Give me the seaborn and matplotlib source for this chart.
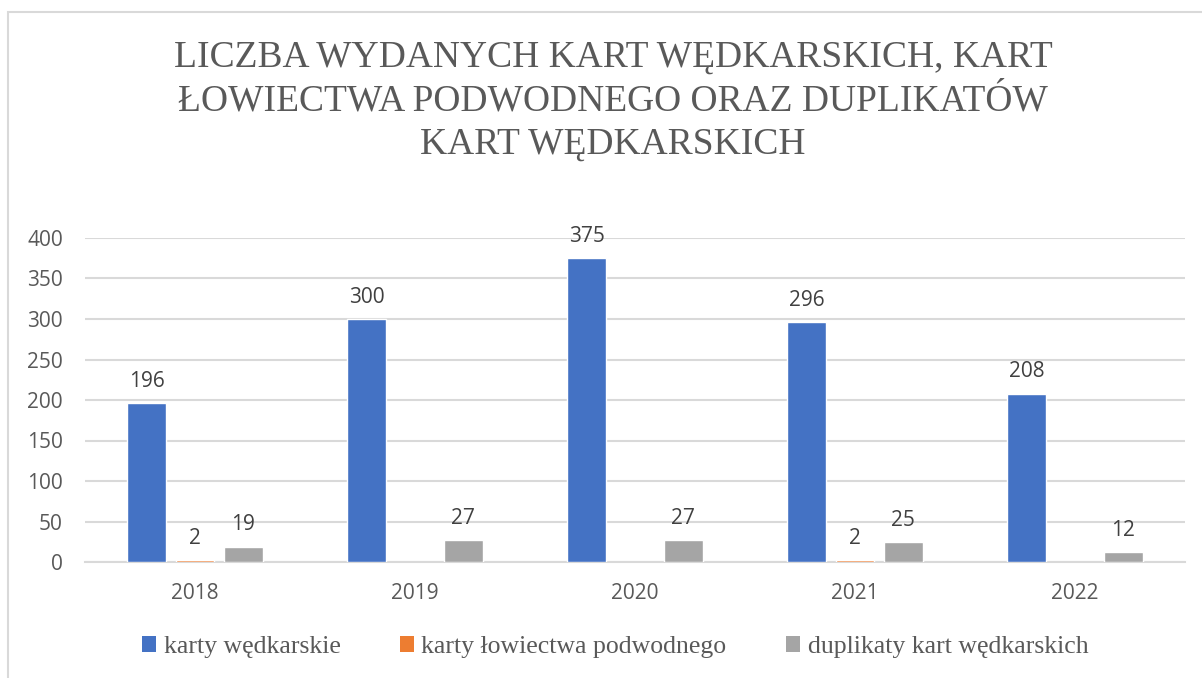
import numpy as np
import pandas as pd
import matplotlib
matplotlib.use("Agg")
import matplotlib.pyplot as plt
from matplotlib.patches import Patch, Rectangle
import seaborn as sns

years = ["2018", "2019", "2020", "2021", "2022"]
karty_wedkarskie = [196, 300, 375, 296, 208]
karty_lowiectwa = [2, np.nan, np.nan, 2, np.nan]
duplikaty = [19, 27, 27, 25, 12]
series_names = ["karty wędkarskie", "karty łowiectwa podwodnego", "duplikaty kart wędkarskich"]
y_ticks = [0, 50, 100, 150, 200, 250, 300, 350, 400]
title = "LICZBA WYDANYCH KART WĘDKARSKICH, KART\nŁOWIECTWA PODWODNEGO ORAZ DUPLIKATÓW\nKART WĘDKARSKICH"

colors = ["#4472C4", "#ED7D31", "#A5A5A5"]

df = pd.DataFrame({
    "rok": years * 3,
    "seria": [series_names[0]] * 5 + [series_names[1]] * 5 + [series_names[2]] * 5,
    "liczba": karty_wedkarskie + karty_lowiectwa + duplikaty,
})

sns.set_theme(style="white")
plt.rcParams["font.family"] = ["Open Sans", "DejaVu Sans"]
serif = ["Liberation Serif", "DejaVu Serif"]

fig = plt.figure(figsize=(12.02, 6.78), dpi=100)
fig.patch.set_facecolor("white")
# light frame around the chart area
fig.patches.append(Rectangle((8 / 1202, -0.05), 1.2, 1 - 12 / 678 + 0.05,
                             transform=fig.transFigure, fill=False,
                             edgecolor="#d9d9d9", linewidth=1.5, clip_on=False))

ax = fig.add_axes([85 / 1202, 1 - 562 / 678, 1100 / 1202, (562 - 238) / 678])
sns.barplot(data=df, x="rok", y="liczba", hue="seria", order=years,
            hue_order=series_names, palette=colors, width=0.66, gap=0.2,
            errorbar=None, ax=ax, legend=False, saturation=1)
for p in ax.patches:
    p.set_zorder(3)

ax.set_ylim(0, 400)
ax.set_xlim(-0.5, len(years) - 0.5)
ax.set_yticks(y_ticks)
ax.yaxis.grid(True, color="#d9d9d9", linewidth=1.5)
ax.set_axisbelow(True)
for s in ["top", "right", "left"]:
    ax.spines[s].set_visible(False)
ax.spines["bottom"].set_color("#d9d9d9")
ax.spines["bottom"].set_linewidth(1.5)
ax.spines["bottom"].set_zorder(2)
ax.tick_params(axis="both", length=0, labelsize=15, labelcolor="#595959")
ax.tick_params(axis="y", pad=16)
ax.tick_params(axis="x", pad=15)
ax.set_xlabel("")
ax.set_ylabel("")

for cont in ax.containers:
    ax.bar_label(cont, fmt="%g", padding=8, fontsize=15, color="#404040")

fig.text(0.5 + 12 / 1202, 1 - 101 / 678, title, ha="center", va="center",
         fontsize=27, color="#595959", family=serif, linespacing=1.33)

handles = [Patch(facecolor=c, edgecolor="none") for c in colors]
fig.legend(handles, series_names, loc="center",
           bbox_to_anchor=(0.5 + 14 / 1202, 1 - 647 / 678),
           ncol=3, frameon=False, handlelength=0.55, handleheight=0.6,
           handletextpad=0.3, columnspacing=2.3,
           prop={"family": serif, "size": 18.5},
           labelcolor="#595959")

fig.savefig("out.png", dpi=100)
